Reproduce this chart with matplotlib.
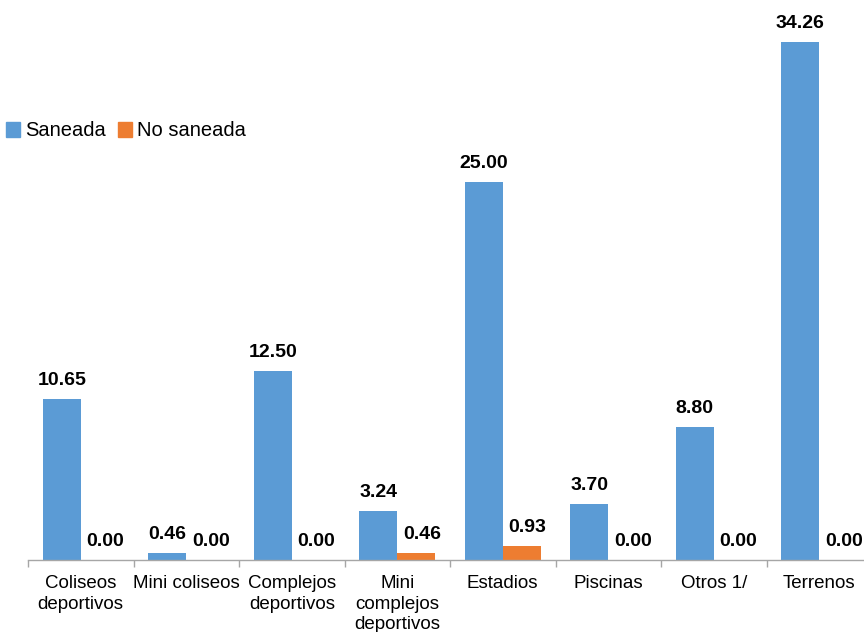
import numpy as np
import matplotlib
matplotlib.use("Agg")
import matplotlib.pyplot as plt
from matplotlib.patches import Patch

plt.rcParams["font.family"] = ["Liberation Sans", "DejaVu Sans"]

categories = ["Coliseos\ndeportivos", "Mini coliseos", "Complejos\ndeportivos",
              "Mini\ncomplejos\ndeportivos", "Estadios", "Piscinas", "Otros 1/", "Terrenos"]
saneada = [10.65, 0.46, 12.50, 3.24, 25.00, 3.70, 8.80, 34.26]
no_saneada = [0.00, 0.00, 0.00, 0.46, 0.93, 0.00, 0.00, 0.00]

blue, orange = "#5B9BD5", "#ED7D31"

W, H = 864, 632
fig = plt.figure(figsize=(W / 100, H / 100), dpi=100)
# axes runs a little past the right edge, like the reference
ax = fig.add_axes([28 / W, (H - 560) / H, 844 / W, 560 / H])

x = np.arange(len(categories))
bw = 0.36
b1 = ax.bar(x - bw / 2, saneada, bw, color=blue, zorder=2)
b2 = ax.bar(x + bw / 2, no_saneada, bw, color=orange, zorder=2)

for r, v in zip(b1, saneada):
    ax.annotate(f"{v:.2f}", (r.get_x() + r.get_width() / 2, v), xytext=(0, 7),
                textcoords="offset points", ha="center", va="bottom",
                fontsize=14, fontweight="bold")
for r, v in zip(b2, no_saneada):
    ax.annotate(f"{v:.2f}", (r.get_x() + r.get_width() / 2, v), xytext=(4, 7),
                textcoords="offset points", ha="center", va="bottom",
                fontsize=14, fontweight="bold")

ax.set_xlim(-0.5, len(categories) - 0.5)
ax.set_ylim(0, 37.04)
ax.set_xticks(x)
ax.set_xticklabels(categories, fontsize=13.5, linespacing=1.25)
ax.set_xticks(np.arange(len(categories) + 1) - 0.5, minor=True)
ax.tick_params(axis="x", which="major", length=0, pad=11)
ax.tick_params(axis="x", which="minor", length=5, color="#A6A6A6", width=1)
ax.set_yticks([])
for s in ["top", "right", "left"]:
    ax.spines[s].set_visible(False)
ax.spines["bottom"].set_color("#A6A6A6")
ax.spines["bottom"].set_linewidth(1)

handles = [Patch(color=blue, label="Saneada"), Patch(color=orange, label="No saneada")]
fig.legend(handles=handles, loc="center left", bbox_to_anchor=(0.0, 1 - 131 / H),
           ncol=2, frameon=False, fontsize=14.5, handlelength=0.7, handleheight=0.7,
           handletextpad=0.25, columnspacing=0.6, borderaxespad=0, borderpad=0.3)

fig.savefig("out.png", dpi=100)
